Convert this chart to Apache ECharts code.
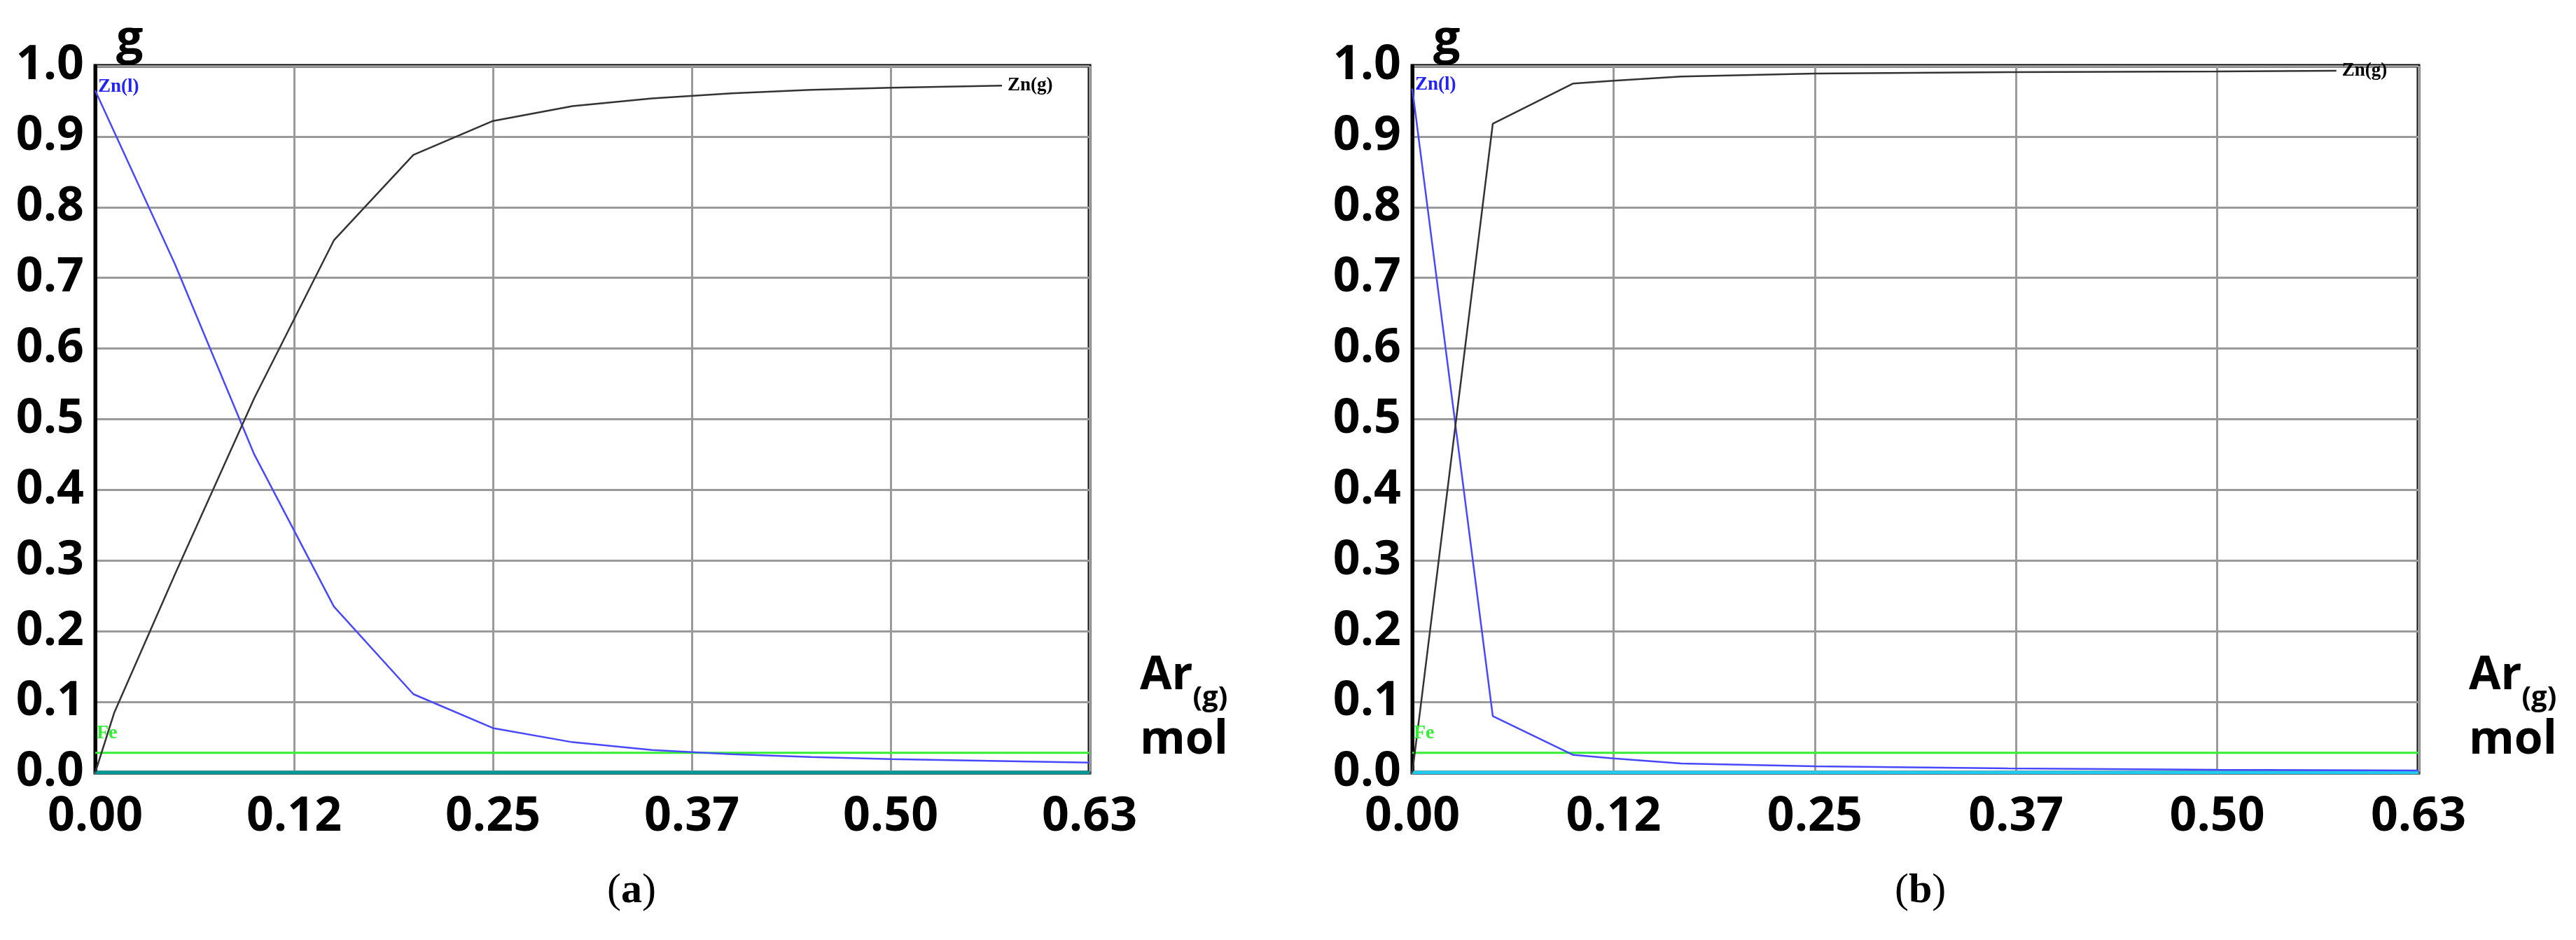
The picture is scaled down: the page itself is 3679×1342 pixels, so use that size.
<!DOCTYPE html>
<html><head><meta charset="utf-8">
<script src="https://cdn.jsdelivr.net/npm/echarts@6/dist/echarts.min.js"></script>
<style>html,body{margin:0;padding:0;background:#fff}#c{width:3679px;height:1342px}</style>
</head><body><div id="c"></div>
<script>
// ---- data (a) ----
const xZnlA = [0, 0.05, 0.10, 0.15, 0.20, 0.25, 0.30, 0.35, 0.40, 0.45, 0.50, 0.55, 0.60, 0.625];
const znlA  = [0.965, 0.72, 0.45, 0.235, 0.111, 0.063, 0.043, 0.032, 0.026, 0.022, 0.019, 0.017, 0.015, 0.014];
const xZngA = [0, 0.012, 0.05, 0.10, 0.15, 0.20, 0.25, 0.30, 0.35, 0.40, 0.45, 0.50, 0.57];
const zngA  = [0.0, 0.085, 0.28, 0.53, 0.753, 0.874, 0.922, 0.943, 0.954, 0.961, 0.966, 0.969, 0.972];
// ---- data (b) ----
const xZnlB = [0, 0.05, 0.10, 0.125, 0.167, 0.25, 0.37, 0.50, 0.625];
const znlB  = [0.968, 0.08, 0.025, 0.02, 0.013, 0.009, 0.006, 0.004, 0.003];
const xZngB = [0, 0.005, 0.05, 0.10, 0.125, 0.167, 0.25, 0.37, 0.50, 0.574];
const zngB  = [0.0, 0.09, 0.918, 0.975, 0.979, 0.985, 0.989, 0.991, 0.992, 0.993];
// ---- shared ----
const xFe = [0, 0.625];
const feA = [0.028, 0.028];
const feB = [0.028, 0.028];
const baseVals = [0, 0];
const xTickLabels = ['0.00', '0.12', '0.25', '0.37', '0.50', '0.63'];
const panelLabels = ['a', 'b'];

const chart = echarts.init(document.getElementById('c'));
const axisFont = {fontFamily: 'Open Sans', fontWeight: 'bold', fontSize: 68, color: '#000'};
const serif = 'Liberation Serif';

function pts(xs, ys) { return xs.map((x, i) => [x, ys[i]]); }
function withFirstLabel(data, lbl) {
  return data.map((d, i) => i === 0 ? {value: d, label: lbl} : d);
}

const grids = [
  {left: 136, right: 3679 - 1556, top: 94, bottom: 1342 - 1103},
  {left: 2017, right: 3679 - 3454, top: 94, bottom: 1342 - 1103}
];
const xAxes = [], yAxes = [], series = [];
const sets = [
  {znl: pts(xZnlA, znlA), zng: pts(xZngA, zngA), fe: pts(xFe, feA), base: '#009999'},
  {znl: pts(xZnlB, znlB), zng: pts(xZngB, zngB), fe: pts(xFe, feB), base: '#22ccee'}
];
grids.forEach((g, k) => {
  g.show = true; g.borderColor = '#000'; g.borderWidth = 5; g.backgroundColor = '#fff';
  xAxes.push({
    type: 'value', gridIndex: k, min: 0, max: 0.625, interval: 0.125,
    axisLine: {show: true, onZero: false, lineStyle: {color: '#555', width: 5}},
    axisTick: {show: false},
    splitLine: {show: true, lineStyle: {color: '#9a9a9a', width: 3}},
    axisLabel: Object.assign({margin: 30, formatter: v => xTickLabels[Math.round(v / 0.125)]}, axisFont),
    name: '{a|Ar}{s|(g)}\n{a|mol}', nameLocation: 'end', nameGap: 72,
    nameTextStyle: {
      align: 'left', verticalAlign: 'bottom', lineHeight: 92,
      rich: {
        a: {fontFamily: 'Open Sans', fontWeight: 'bold', fontSize: 66, color: '#000', lineHeight: 92},
        s: {fontFamily: 'Open Sans', fontWeight: 'bold', fontSize: 40, color: '#000', verticalAlign: 'bottom', padding: [0, 0, -6, 0]}
      }
    }
  });
  yAxes.push({
    type: 'value', gridIndex: k, min: 0, max: 1.0, interval: 0.1,
    axisLine: {show: true, lineStyle: {color: '#000', width: 5}},
    axisTick: {show: false},
    splitLine: {show: true, lineStyle: {color: '#9a9a9a', width: 3}},
    axisLabel: Object.assign({margin: 16, formatter: v => v.toFixed(1)}, axisFont),
    name: 'g', nameLocation: 'end', nameGap: 2,
    nameTextStyle: {fontFamily: 'Open Sans', fontWeight: 'bold', fontSize: 68, color: '#000', align: 'left', padding: [0, 0, 0, 30], verticalAlign: 'bottom'}
  });
  const s = sets[k];
  series.push({
    type: 'line', xAxisIndex: k, yAxisIndex: k, data: s.fe, symbolSize: 0, showSymbol: true,
    lineStyle: {color: '#33ee33', width: 3}, silent: true,
    label: {show: false}
  });
  series[series.length - 1].data = withFirstLabel(s.fe, {
    show: true, formatter: 'Fe', position: 'top', align: 'left', distance: 14, offset: [2, 0],
    fontFamily: serif, fontWeight: 'bold', fontSize: 28, color: '#33ee33'
  });
  series.push({
    type: 'line', xAxisIndex: k, yAxisIndex: k, data: pts(xFe, baseVals), symbol: 'none',
    lineStyle: {color: s.base, width: 5}, silent: true
  });
  series.push({
    type: 'line', xAxisIndex: k, yAxisIndex: k, symbolSize: 0, showSymbol: true,
    data: withFirstLabel(s.znl, {
      show: true, formatter: 'Zn(l)', position: 'top', align: 'left', distance: 0, offset: [4, 8],
      fontFamily: serif, fontWeight: 'bold', fontSize: 27, color: '#2222ff'
    }),
    lineStyle: {color: '#4848ff', width: 2.5}, silent: true
  });
  series.push({
    type: 'line', xAxisIndex: k, yAxisIndex: k, data: s.zng, symbol: 'none',
    lineStyle: {color: '#333', width: 2.5}, silent: true,
    endLabel: {show: true, formatter: 'Zn(g)', distance: 8, fontFamily: serif, fontWeight: 'bold', fontSize: 27, color: '#000'}
  });
});

chart.setOption({
  animation: false,
  grid: grids, xAxis: xAxes, yAxis: yAxes, series: series,
  graphic: panelLabels.map((p, i) => ({
    type: 'text', left: (i === 0 ? 897 : 2736) - 30, top: 1242,
    style: {
      text: '{n|(}{b|' + p + '}{n|)}',
      rich: {
        n: {fontFamily: serif, fontSize: 60, fill: '#000'},
        b: {fontFamily: serif, fontSize: 60, fontWeight: 'bold', fill: '#000'}
      }
    }
  }))
});
</script></body></html>
